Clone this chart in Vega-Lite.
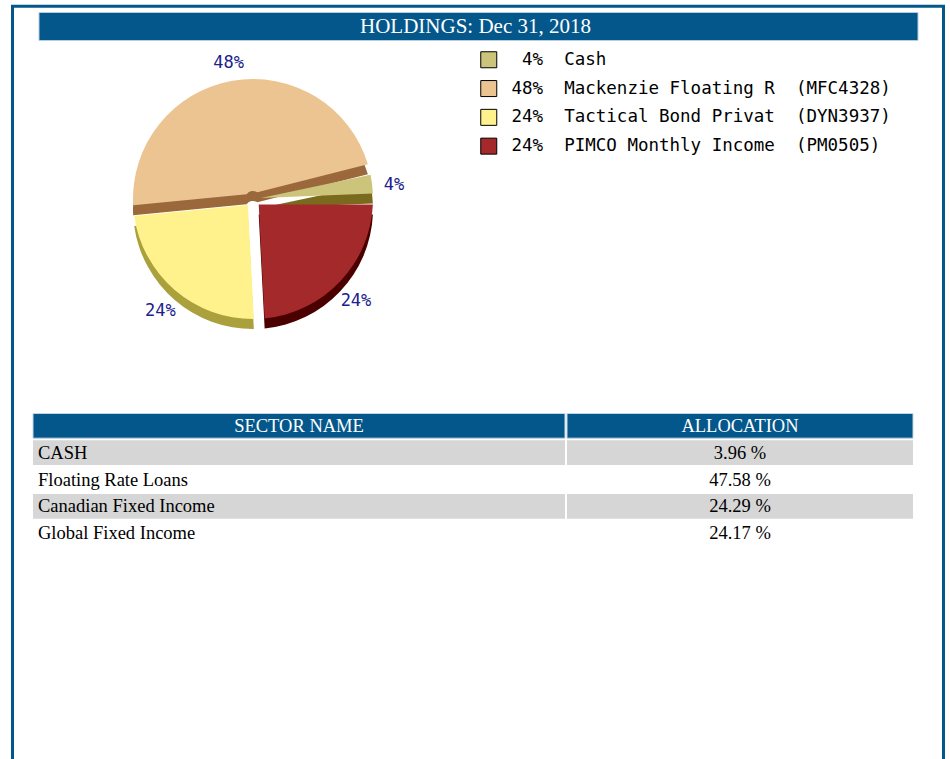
{
  "$schema": "https://vega.github.io/schema/vega-lite/v6.json",
  "width": 950,
  "height": 759,
  "autosize": "none",
  "padding": 0,
  "background": "white",
  "config": {
    "view": {"stroke": null},
    "legend": {
      "orient": "none",
      "legendX": 480,
      "legendY": 51,
      "padding": 0,
      "symbolType": "square",
      "symbolSize": 256,
      "symbolStrokeColor": "black",
      "symbolStrokeWidth": 1,
      "symbolOpacity": 1,
      "labelFont": "DejaVu Sans Mono",
      "labelFontSize": 17.5,
      "labelColor": "black",
      "labelLimit": 700,
      "labelOffset": 14,
      "rowPadding": 7.8
    }
  },
  "datasets": {
    "holdings": [
      {"rank": 1, "holding": "Cash", "code": "", "sector": "CASH", "allocation": 3.96},
      {"rank": 2, "holding": "Mackenzie Floating R", "code": "MFC4328", "sector": "Floating Rate Loans", "allocation": 47.58},
      {"rank": 3, "holding": "Tactical Bond Privat", "code": "DYN3937", "sector": "Canadian Fixed Income", "allocation": 24.29},
      {"rank": 4, "holding": "PIMCO Monthly Income", "code": "PM0505", "sector": "Global Fixed Income", "allocation": 24.17}
    ],
    "header": [
      {"title": "HOLDINGS: Dec 31, 2018", "sectorHead": "SECTOR NAME", "allocHead": "ALLOCATION"}
    ]
  },
  "resolve": {
    "scale": {"x": "independent", "y": "independent", "color": "independent", "theta": "independent"},
    "legend": {"color": "independent"}
  },
  "layer": [
    {
      "data": {"name": "header"},
      "mark": {"type": "rect", "fillOpacity": 0, "stroke": "#04578b", "strokeWidth": 3, "clip": true},
      "encoding": {
        "x": {"field": "title", "type": "nominal", "axis": null, "scale": {"type": "band", "range": [12.5, 943.5], "paddingInner": 0, "paddingOuter": 0}},
        "y": {"field": "title", "type": "nominal", "axis": null, "scale": {"type": "band", "range": [6.25, 830], "paddingInner": 0, "paddingOuter": 0}}
      }
    },
    {
      "data": {"name": "header"},
      "mark": {"type": "rect", "fill": "#04578b", "stroke": "#b4cde0", "strokeWidth": 1},
      "encoding": {
        "x": {"field": "title", "type": "nominal", "axis": null, "scale": {"type": "band", "range": [39, 918], "paddingInner": 0, "paddingOuter": 0}},
        "y": {"field": "title", "type": "nominal", "axis": null, "scale": {"type": "band", "range": [12.5, 40.5], "paddingInner": 0, "paddingOuter": 0}}
      }
    },
    {
      "data": {"name": "header"},
      "mark": {"type": "text", "color": "white", "font": "Liberation Serif", "fontSize": 21, "align": "center", "baseline": "middle", "dx": -3},
      "encoding": {
        "x": {"field": "title", "type": "nominal", "axis": null, "scale": {"type": "band", "range": [39, 918], "paddingInner": 0, "paddingOuter": 0}},
        "y": {"field": "title", "type": "nominal", "axis": null, "scale": {"type": "band", "range": [12.5, 40.5], "paddingInner": 0, "paddingOuter": 0}},
        "text": {"field": "title"}
      }
    },
    {
      "data": {"name": "holdings"},
      "transform": [
        {"calculate": "(datum.allocation < 9.5 ? '\u2060\u00a0' : '') + format(datum.allocation, '.0f') + '%\u00a0\u00a0' + (datum.code ? pad(datum.holding, 20, '\u00a0') + '\u00a0\u00a0(' + datum.code + ')' : datum.holding)", "as": "legendLabel"}
      ],
      "mark": {"type": "arc", "padAngle": 0.09, "innerRadius": 8, "outerRadius": 120},
      "encoding": {
        "theta": {"field": "allocation", "type": "quantitative", "stack": true, "scale": {"range": [1.5708, -4.7124]}},
        "order": {"field": "rank", "type": "quantitative"},
        "color": {"field": "legendLabel", "type": "nominal", "sort": {"field": "rank", "op": "min"}, "scale": {"range": ["#7a6a1e", "#9a683a", "#aaa03c", "#4b0000"]}, "legend": null},
        "x": {"datum": "Holdings", "type": "nominal", "axis": null, "scale": {"type": "point", "range": [253, 253]}},
        "y": {"datum": "Holdings", "type": "nominal", "axis": null, "scale": {"type": "point", "range": [209, 209]}}
      }
    },
    {
      "data": {"name": "holdings"},
      "transform": [
        {"calculate": "(datum.allocation < 9.5 ? '\u2060\u00a0' : '') + format(datum.allocation, '.0f') + '%\u00a0\u00a0' + (datum.code ? pad(datum.holding, 20, '\u00a0') + '\u00a0\u00a0(' + datum.code + ')' : datum.holding)", "as": "legendLabel"}
      ],
      "mark": {"type": "arc", "padAngle": 0.09, "innerRadius": 8, "outerRadius": 120},
      "encoding": {
        "theta": {"field": "allocation", "type": "quantitative", "stack": true, "scale": {"range": [1.5708, -4.7124]}},
        "order": {"field": "rank", "type": "quantitative"},
        "color": {"field": "legendLabel", "type": "nominal", "sort": {"field": "rank", "op": "min"}, "scale": {"range": ["#cbc47a", "#ecc491", "#fff28c", "#a3292b"]}, "legend": {"title": null}},
        "x": {"datum": "Holdings", "type": "nominal", "axis": null, "scale": {"type": "point", "range": [253, 253]}},
        "y": {"datum": "Holdings", "type": "nominal", "axis": null, "scale": {"type": "point", "range": [199, 199]}}
      }
    },
    {
      "data": {"name": "holdings"},
      "transform": [
        {"calculate": "format(datum.allocation, '.0f') + '%'", "as": "pctLabel"}
      ],
      "mark": {"type": "text", "radius": 142, "font": "DejaVu Sans Mono", "fontSize": 17, "color": "#20208c", "align": "center", "baseline": "middle"},
      "encoding": {
        "theta": {"field": "allocation", "type": "quantitative", "stack": true, "scale": {"range": [1.5708, -4.7124]}},
        "order": {"field": "rank", "type": "quantitative"},
        "text": {"field": "pctLabel"},
        "x": {"datum": "Holdings", "type": "nominal", "axis": null, "scale": {"type": "point", "range": [253, 253]}},
        "y": {"datum": "Holdings", "type": "nominal", "axis": null, "scale": {"type": "point", "range": [203, 203]}}
      }
    },
    {
      "data": {"name": "header"},
      "mark": {"type": "rect", "fill": "#04578b", "stroke": "#c4d6e4", "strokeWidth": 1},
      "encoding": {
        "x": {"field": "sectorHead", "type": "nominal", "axis": null, "scale": {"type": "band", "range": [33, 565], "paddingInner": 0, "paddingOuter": 0}},
        "y": {"field": "sectorHead", "type": "nominal", "axis": null, "scale": {"type": "band", "domain": ["SECTOR NAME", "CASH", "Floating Rate Loans", "Canadian Fixed Income", "Global Fixed Income"], "range": [413.5, 545.5], "paddingInner": 0.08, "paddingOuter": 0}}
      }
    },
    {
      "data": {"name": "header"},
      "mark": {"type": "rect", "fill": "#04578b", "stroke": "#c4d6e4", "strokeWidth": 1},
      "encoding": {
        "x": {"field": "allocHead", "type": "nominal", "axis": null, "scale": {"type": "band", "range": [567, 913], "paddingInner": 0, "paddingOuter": 0}},
        "y": {"field": "sectorHead", "type": "nominal", "axis": null, "scale": {"type": "band", "domain": ["SECTOR NAME", "CASH", "Floating Rate Loans", "Canadian Fixed Income", "Global Fixed Income"], "range": [413.5, 545.5], "paddingInner": 0.08, "paddingOuter": 0}}
      }
    },
    {
      "data": {"name": "header"},
      "mark": {"type": "text", "color": "white", "font": "Liberation Serif", "fontSize": 18.5, "align": "center", "baseline": "middle"},
      "encoding": {
        "x": {"field": "sectorHead", "type": "nominal", "axis": null, "scale": {"type": "band", "range": [33, 565], "paddingInner": 0, "paddingOuter": 0}},
        "y": {"field": "sectorHead", "type": "nominal", "axis": null, "scale": {"type": "band", "domain": ["SECTOR NAME", "CASH", "Floating Rate Loans", "Canadian Fixed Income", "Global Fixed Income"], "range": [413.5, 545.5], "paddingInner": 0.08, "paddingOuter": 0}},
        "text": {"field": "sectorHead"}
      }
    },
    {
      "data": {"name": "header"},
      "mark": {"type": "text", "color": "white", "font": "Liberation Serif", "fontSize": 18.5, "align": "center", "baseline": "middle"},
      "encoding": {
        "x": {"field": "allocHead", "type": "nominal", "axis": null, "scale": {"type": "band", "range": [567, 913], "paddingInner": 0, "paddingOuter": 0}},
        "y": {"field": "sectorHead", "type": "nominal", "axis": null, "scale": {"type": "band", "domain": ["SECTOR NAME", "CASH", "Floating Rate Loans", "Canadian Fixed Income", "Global Fixed Income"], "range": [413.5, 545.5], "paddingInner": 0.08, "paddingOuter": 0}},
        "text": {"field": "allocHead"}
      }
    },
    {
      "data": {"name": "holdings"},
      "mark": {"type": "rect"},
      "encoding": {
        "x": {"datum": "SECTOR NAME", "type": "nominal", "axis": null, "scale": {"type": "band", "domain": ["SECTOR NAME"], "range": [33, 565], "paddingInner": 0, "paddingOuter": 0}},
        "y": {"field": "sector", "type": "nominal", "axis": null, "scale": {"type": "band", "domain": ["SECTOR NAME", "CASH", "Floating Rate Loans", "Canadian Fixed Income", "Global Fixed Income"], "range": [413.5, 545.5], "paddingInner": 0.08, "paddingOuter": 0}},
        "fill": {"condition": {"test": "datum.rank % 2 == 1", "value": "#d6d6d6"}, "value": "#ffffff"}
      }
    },
    {
      "data": {"name": "holdings"},
      "mark": {"type": "rect"},
      "encoding": {
        "x": {"datum": "ALLOCATION", "type": "nominal", "axis": null, "scale": {"type": "band", "domain": ["ALLOCATION"], "range": [567, 913], "paddingInner": 0, "paddingOuter": 0}},
        "y": {"field": "sector", "type": "nominal", "axis": null, "scale": {"type": "band", "domain": ["SECTOR NAME", "CASH", "Floating Rate Loans", "Canadian Fixed Income", "Global Fixed Income"], "range": [413.5, 545.5], "paddingInner": 0.08, "paddingOuter": 0}},
        "fill": {"condition": {"test": "datum.rank % 2 == 1", "value": "#d6d6d6"}, "value": "#ffffff"}
      }
    },
    {
      "data": {"name": "holdings"},
      "mark": {"type": "text", "color": "black", "font": "Liberation Serif", "fontSize": 18.5, "align": "left", "baseline": "middle", "dx": 5},
      "encoding": {
        "x": {"datum": "SECTOR NAME", "type": "nominal", "bandPosition": 0, "axis": null, "scale": {"type": "band", "domain": ["SECTOR NAME"], "range": [33, 565], "paddingInner": 0, "paddingOuter": 0}},
        "y": {"field": "sector", "type": "nominal", "axis": null, "scale": {"type": "band", "domain": ["SECTOR NAME", "CASH", "Floating Rate Loans", "Canadian Fixed Income", "Global Fixed Income"], "range": [413.5, 545.5], "paddingInner": 0.08, "paddingOuter": 0}},
        "text": {"field": "sector"}
      }
    },
    {
      "data": {"name": "holdings"},
      "transform": [
        {"calculate": "format(datum.allocation, '.2f') + ' %'", "as": "allocText"}
      ],
      "mark": {"type": "text", "color": "black", "font": "Liberation Serif", "fontSize": 18.5, "align": "center", "baseline": "middle"},
      "encoding": {
        "x": {"datum": "ALLOCATION", "type": "nominal", "axis": null, "scale": {"type": "band", "domain": ["ALLOCATION"], "range": [567, 913], "paddingInner": 0, "paddingOuter": 0}},
        "y": {"field": "sector", "type": "nominal", "axis": null, "scale": {"type": "band", "domain": ["SECTOR NAME", "CASH", "Floating Rate Loans", "Canadian Fixed Income", "Global Fixed Income"], "range": [413.5, 545.5], "paddingInner": 0.08, "paddingOuter": 0}},
        "text": {"field": "allocText"}
      }
    }
  ]
}
